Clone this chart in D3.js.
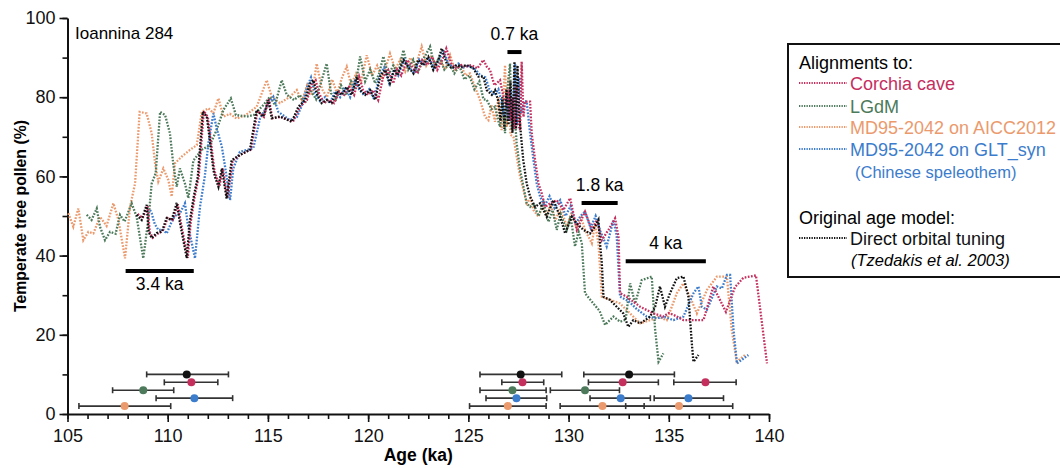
<!DOCTYPE html>
<html>
<head>
<meta charset="utf-8">
<script src="https://cdn.jsdelivr.net/npm/d3@7"></script>
<style>
body{margin:0;background:#fff;}
svg{font-family:"Liberation Sans",Arial,Helvetica,sans-serif;}
</style>
</head>
<body>
<svg></svg>
<script>
// pollen records, [age ka, temperate tree pollen %]
var orangeData = [[105.04,50.7],[105.29,47.3],[105.54,51.9],[105.79,43.9],[106.04,46],[106.29,45.6],[106.62,49.8],[106.95,47.5],[107.29,53.2],[107.54,49],[107.87,39.3],[108.12,52.3],[108.37,58.2],[108.6,76.3],[108.95,75.9],[109.2,70.9],[109.37,63.3],[109.53,58.7],[109.78,62],[110.03,59.1],[110.2,54.9],[110.36,63.3],[110.7,65],[111.11,66.7],[111.45,67.9],[111.7,76.3],[112.03,77.2],[112.28,76],[112.53,79.7],[112.78,75.1],[113.1,75.8],[113.44,74.6],[113.9,75.5],[114.44,77.6],[114.94,84.3],[115.19,80.1],[115.6,78.5],[116.1,80.1],[116.44,81.8],[116.7,79],[116.95,83],[117.2,80.5],[117.43,88.5],[117.7,82],[117.95,80],[118.2,84.5],[118.45,81],[118.7,85],[118.93,87.7],[119.15,83],[119.4,86],[119.65,84],[119.93,90.6],[120.2,85.5],[120.45,88],[120.7,84.5],[121.09,91],[121.35,87],[121.6,89.5],[121.85,86.5],[122.1,90],[122.35,87.5],[122.67,92.8],[122.9,88],[123.15,90.5],[123.4,87.5],[123.65,89],[123.85,87],[124.09,90.6],[124.35,86.5],[124.6,88.5],[124.85,85.5],[125.08,86],[125.33,82.6],[125.58,79.3],[125.83,75.1],[126.0,74.2],[126.15,78],[126.33,73.8],[126.5,80],[126.66,71.7],[126.83,88.1],[126.92,72.5],[127.0,85.2],[127.1,70.5],[127.25,70],[127.41,65],[127.58,59.9],[127.75,56.6],[127.91,53.2],[128.1,54.5],[128.25,51.5],[128.5,49.8],[128.7,52.5],[128.9,50],[129.1,53],[129.35,49],[129.6,52],[129.91,47.3],[130.15,51],[130.4,47],[130.6,50],[130.82,46.5],[131.16,43.1],[131.32,48.1],[131.49,43.1],[131.66,29.6],[132.1,28.8],[132.57,27.9],[133.07,25.4],[133.57,22.9],[134.07,23.7],[134.5,24.5],[134.9,23.7],[135.4,30.5],[135.73,33],[136.06,29.6],[136.4,25.4],[136.9,31.3],[137.4,34.7],[137.9,34.7],[138.14,21.2],[138.39,13.2],[138.81,14.9]]

var greenData = [[105.96,50.3],[106.2,49],[106.46,51.9],[106.62,47.3],[106.87,43.9],[107.12,46],[107.4,45.5],[107.62,50.3],[107.85,48.6],[108.2,53.2],[108.45,49.8],[108.78,39.3],[109.05,49.8],[109.2,58.2],[109.4,60.8],[109.62,76.3],[109.87,75.5],[110.11,70.9],[110.28,63],[110.45,57.4],[110.61,62],[110.86,58.2],[111.03,54.5],[111.28,64],[111.7,66.7],[112.1,67.9],[112.44,71.7],[112.78,76.8],[113.15,79.7],[113.4,75.5],[113.94,75.1],[114.3,75.5],[114.77,78],[115.1,80.1],[115.35,78],[115.69,84.3],[115.94,80.6],[116.3,79.3],[116.6,80.5],[116.85,78.5],[117.1,82],[117.4,79.5],[117.93,88.5],[118.15,81],[118.4,79.5],[118.65,83],[118.9,80.5],[119.15,84],[119.35,82],[119.6,90.3],[119.85,84],[120.1,87],[120.35,83.5],[120.55,86],[120.76,90.3],[121.0,85.5],[121.25,88],[121.5,86],[121.76,91.9],[122.0,87],[122.25,89.5],[122.5,86.5],[122.8,90],[123.09,92.8],[123.3,88],[123.55,90],[123.8,87],[124.05,88.5],[124.3,86],[124.55,88],[124.8,84.5],[125.05,85.5],[125.3,82],[125.55,84],[125.75,79.5],[125.92,79.3],[126.15,77],[126.33,77.6],[126.5,74],[126.58,72.5],[126.7,79],[126.83,70.9],[126.95,82],[127.08,88.5],[127.16,71.7],[127.25,80],[127.41,68.4],[127.58,61.6],[127.75,57.4],[127.91,53.2],[128.08,52.3],[128.25,53.2],[128.5,50],[128.75,53.5],[129.0,48.5],[129.2,51.5],[129.41,46.5],[129.6,50.5],[129.91,46.5],[130.1,50],[130.32,42.3],[130.5,46],[130.66,43.1],[130.82,30.5],[131.24,27.9],[131.55,26],[131.82,22.5],[132.24,24.6],[132.57,23.3],[132.85,23.8],[133.07,33],[133.32,27.9],[133.65,33.8],[134.15,34.7],[134.32,21.2],[134.49,13.2],[134.73,15.3]]

var blueData = [[109.12,51.5],[109.2,50.7],[109.35,48],[109.53,46.5],[109.78,46.5],[109.95,45.6],[110.15,48],[110.35,50],[110.61,50.7],[110.86,53.2],[111.0,48],[111.36,39.3],[111.61,52.3],[111.85,60],[112.03,68.4],[112.28,75.9],[112.45,72],[112.7,67.5],[112.86,62.5],[113.11,54],[113.27,62],[113.6,66.2],[114.27,67.1],[114.6,74.6],[114.94,77.6],[115.27,80.1],[115.52,76.3],[116.1,74.2],[116.45,75],[116.7,78],[116.95,82.5],[117.15,85],[117.35,81],[117.6,79],[117.85,80],[118.1,78.5],[118.35,81.5],[118.6,80],[118.85,82.5],[119.1,80],[119.35,84.5],[119.55,82],[119.8,80.5],[120.05,82],[120.3,79.5],[120.55,85],[120.8,87.5],[121.05,83.5],[121.3,87],[121.5,85.5],[121.8,89.5],[122.05,87.5],[122.3,86],[122.55,89.5],[122.8,88],[123.05,90],[123.3,87],[123.55,89.5],[123.75,92],[124.0,88.5],[124.25,87.5],[124.5,88.5],[124.75,87.5],[125.0,88],[125.35,87],[125.6,85.5],[125.85,85],[126.05,82],[126.3,80.5],[126.5,82],[126.65,79],[126.8,75],[126.9,81],[127.0,74],[127.1,82],[127.2,72],[127.33,88.5],[127.42,73],[127.55,85],[127.65,76],[127.8,79],[127.91,78.9],[128.08,70.9],[128.25,64.1],[128.41,58.2],[128.58,54.9],[128.8,52.5],[129.05,55],[129.3,52],[129.58,54],[129.85,50],[130.1,52.5],[130.35,48],[130.6,50],[130.82,51.1],[131.1,47],[131.35,50],[131.6,46],[131.9,42.3],[132.24,49],[132.4,45],[132.57,29.6],[133.0,28.5],[133.4,26.5],[133.9,24.6],[134.4,24.2],[134.8,24.5],[135.23,23.7],[135.73,24.6],[136.23,30.5],[136.48,32.2],[136.65,27.1],[136.9,26.3],[137.4,32.2],[137.65,31.7],[137.9,35.1],[138.06,35.1],[138.23,21.2],[138.4,12.8],[138.97,14.9]]

var crimsonData = [[108.5,50.5],[108.75,49.5],[109.0,52.5],[109.1,46],[109.25,44.5],[109.5,45.5],[109.75,46.2],[110.0,49.5],[110.25,49],[110.5,53],[110.65,48.5],[111.0,39.4],[111.15,48.5],[111.35,55],[111.55,60],[111.8,76.5],[112.0,75],[112.15,69],[112.33,61.5],[112.42,60],[112.58,57.5],[112.75,62],[112.98,54.5],[113.24,64],[113.65,65.5],[114.15,66.8],[114.48,76.5],[114.8,75],[115.05,79.5],[115.22,74.7],[115.65,75],[116.25,73.8],[116.6,77.6],[116.95,79.3],[117.2,83.5],[117.38,84.3],[117.55,81],[117.8,78.5],[118.05,79.3],[118.3,78.5],[118.55,81.4],[118.8,80.6],[119.05,82.6],[119.3,80.6],[119.55,85.2],[119.75,81.8],[120.0,80.6],[120.25,81.8],[120.5,79.3],[120.75,85.2],[121.0,86.9],[121.25,83.5],[121.45,87],[121.65,85.5],[121.95,89.4],[122.2,87.7],[122.45,86],[122.7,89.4],[122.95,88.1],[123.2,90.2],[123.45,86.9],[123.7,89.4],[123.9,92.3],[124.15,88.5],[124.4,87.3],[124.65,88.1],[124.9,87.7],[125.15,88.1],[125.45,87.3],[125.75,89.4],[125.92,87.7],[126.08,86.9],[126.3,83],[126.58,84.3],[126.75,80.1],[126.9,78],[127.0,82],[127.1,74],[127.2,80],[127.3,72],[127.4,83],[127.5,73],[127.58,71.7],[127.66,89],[127.75,75],[127.83,78.9],[128.08,78.9],[128.16,70.9],[128.33,64.1],[128.5,58.2],[128.66,55.7],[128.83,52.3],[129.08,53.2],[129.41,54],[129.74,51.5],[130.08,54.5],[130.41,46.5],[130.82,51.1],[131.16,46.5],[131.41,49],[131.66,43.9],[131.99,46.5],[132.32,49.4],[132.49,44.8],[132.57,30.5],[132.9,29.6],[133.57,27.1],[134.23,25.4],[134.73,24.6],[135.0,25.5],[135.25,25],[135.73,23.7],[136.73,23.7],[137.22,32.2],[137.85,25.8],[138.3,32],[138.72,34.4],[139.35,35],[139.9,12.8]]

var blackData = [[108.45,50.3],[108.7,49],[108.95,52.8],[109.05,46],[109.2,44.4],[109.45,45.7],[109.7,46],[109.95,49.5],[110.2,49],[110.45,53.3],[110.6,48.6],[110.95,39.4],[111.1,48.6],[111.3,54.9],[111.5,59.9],[111.75,76.3],[111.95,75.1],[112.1,69.2],[112.28,61.6],[112.36,59.9],[112.53,57.4],[112.7,62],[112.94,54.4],[113.19,64.1],[113.6,65.4],[114.1,66.7],[114.44,76.8],[114.77,75.1],[115.02,79.3],[115.19,74.7],[115.6,75.1],[116.19,73.8],[116.52,77.6],[116.85,79.3],[117.1,83.5],[117.27,84.3],[117.43,81],[117.68,78.5],[117.93,79.3],[118.18,78.5],[118.43,81.4],[118.68,80.6],[118.93,82.6],[119.18,80.6],[119.43,85.2],[119.6,81.8],[119.85,80.6],[120.1,81.8],[120.35,79.3],[120.6,85.2],[120.84,86.9],[121.09,83.5],[121.3,87],[121.45,85.5],[121.76,89.4],[122.0,87.7],[122.26,86],[122.5,89.4],[122.75,88.1],[123.0,90.2],[123.25,86.9],[123.5,89.4],[123.67,92.3],[123.92,88.5],[124.17,87.3],[124.42,88.1],[124.67,87.7],[124.92,88.1],[125.25,87.3],[125.5,85.2],[125.75,85.2],[125.92,81.8],[126.17,80.6],[126.33,81.8],[126.5,78.9],[126.6,74],[126.7,80],[126.8,72],[126.9,82],[127.0,73],[127.1,84],[127.2,71],[127.3,89],[127.38,72],[127.45,88],[127.55,75],[127.66,68.4],[127.74,64.1],[127.91,58.2],[128.08,54.9],[128.33,52.3],[128.58,53.2],[128.91,49.8],[129.24,54],[129.58,49.8],[129.83,45.6],[130.16,49.8],[130.41,48.1],[130.74,46.5],[131.07,45.6],[131.32,47.3],[131.49,49],[131.57,43.1],[131.66,38],[131.74,29.6],[132.07,28.8],[132.4,27.1],[132.73,25.4],[132.98,22],[133.23,23.7],[133.57,22.9],[133.82,23.7],[134.07,24.6],[134.32,27.1],[134.56,32.2],[134.81,27.1],[135.06,30.5],[135.4,34.3],[135.73,34.7],[135.98,29.6],[136.15,17.8],[136.23,13.2],[136.48,14.9]]

// legend / series
var seriesNames = ["Corchia cave","LGdM","MD95-2042 on AICC2012","MD95-2042 on GLT_syn","Direct orbital tuning"]
var seriesColors = ["#c52f5e","#4c7a5b","#eb9a6d","#3c7ccc","#111111"]
var seriesData = [crimsonData, greenData, orangeData, blueData, blackData]
var drawOrder = [2,1,3,0,4]

// transition ages with uncertainty, one row per series (same order as seriesNames)
var errRow = [8,6,2,4,10]
var errCenter = [[111.18,127.70,132.70,136.83],[108.78,127.20,130.82],[107.85,126.97,131.69,135.51],[111.33,127.40,132.60,135.98],[110.95,127.61,133.02]]
var errLow = [[109.83,126.67,130.99,135.25],[107.25,125.58,129.09],[105.57,125.06,129.58,132.85],[109.42,125.88,131.07,134.27],[108.95,125.58,130.76]]
var errHigh = [[112.50,128.76,134.48,138.36],[110.30,128.88,132.54],[110.15,128.88,133.77,138.19],[113.24,128.91,134.08,137.73],[113.03,129.66,135.28]]

// duration bars
var spanLabels = ["0.7 ka","1.8 ka","4 ka","3.4 ka"]
var spanStart = [126.95,130.65,132.85,107.9]
var spanEnd = [127.65,132.45,136.85,111.3]
var spanLevel = [91.4,53.3,38.6,36.1]
var spanBelow = [false,false,false,true]

var xTicks = [105,110,115,120,125,130,135,140]
var yTicks = [0,20,40,60,80,100]

var screen = {width:1060, height:468}
var margins = {top:18, bottom:54, left:67.5, right:291}

var width = screen.width - margins.left - margins.right
var height = screen.height - margins.top - margins.bottom

var svg = d3.select("svg")
    .attr("width",screen.width)
    .attr("height",screen.height)

var graph = svg.append("g")
    .attr("id","graph")
    .attr("transform","translate("+margins.left+","+margins.top+")")

var xScale = d3.scaleLinear()
    .domain([105,140])
    .range([0,width])
var yScale = d3.scaleLinear()
    .domain([0,100])
    .range([height,0])

// minor ticks first, then the labelled axes
graph.append("g")
    .attr("transform","translate(0,"+height+")")
    .call(d3.axisBottom(xScale).tickValues(d3.range(105,141,1)).tickSize(5).tickFormat(""))
    .call(function(g){ g.select(".domain").remove() })
graph.append("g")
    .call(d3.axisLeft(yScale).tickValues(d3.range(0,101,10)).tickSize(5).tickFormat(""))
    .call(function(g){ g.select(".domain").remove() })

var xAxis = graph.append("g")
    .attr("id","xAxis")
    .attr("transform","translate(0,"+height+")")
    .call(d3.axisBottom(xScale).tickValues(xTicks).tickSize(8).tickSizeOuter(0).tickPadding(7))
var yAxis = graph.append("g")
    .attr("id","yAxis")
    .call(d3.axisLeft(yScale).tickValues(yTicks).tickSize(8).tickSizeOuter(0).tickPadding(4))

svg.selectAll(".tick line").attr("stroke","#111").attr("stroke-width",1.6)
svg.selectAll(".domain").attr("stroke","#111").attr("stroke-width",2)
svg.selectAll(".tick text").attr("font-size",18).attr("fill","#111")
    .attr("font-family","'Liberation Sans',Arial,sans-serif")

svg.append("text")
    .attr("transform","translate(26,"+(margins.top+height/2)+") rotate(-90)")
    .attr("text-anchor","middle")
    .attr("font-size",15.8).attr("font-weight","bold")
    .text("Temperate tree pollen (%)")
svg.append("text")
    .attr("x",margins.left+xScale(122.5)).attr("y",461)
    .attr("text-anchor","middle")
    .attr("font-size",17.5).attr("font-weight","bold")
    .text("Age (ka)")

graph.append("text")
    .attr("x",7.5).attr("y",21)
    .attr("font-size",17)
    .text("Ioannina 284")

// curves
var line = d3.line()
    .x(function(d){ return xScale(d[0]) })
    .y(function(d){ return yScale(d[1]) })

graph.selectAll("path.curve")
    .data(drawOrder)
    .enter()
    .append("path")
    .attr("class","curve")
    .attr("d",function(i){ return line(seriesData[i]) })
    .attr("fill","none")
    .attr("stroke",function(i){ return seriesColors[i] })
    .attr("stroke-width",2.3)
    .attr("stroke-dasharray","1.7,1.5")

// duration bars
var spans = graph.selectAll("g.span")
    .data(spanLabels)
    .enter()
    .append("g")
    .attr("class","span")
spans.append("line")
    .attr("x1",function(d,i){ return xScale(spanStart[i]) })
    .attr("x2",function(d,i){ return xScale(spanEnd[i]) })
    .attr("y1",function(d,i){ return yScale(spanLevel[i]) })
    .attr("y2",function(d,i){ return yScale(spanLevel[i]) })
    .attr("stroke","#000").attr("stroke-width",4)
spans.append("text")
    .attr("x",function(d,i){ return xScale((spanStart[i]+spanEnd[i])/2) })
    .attr("y",function(d,i){ return yScale(spanLevel[i]) + (spanBelow[i] ? 19 : -12) })
    .attr("text-anchor","middle")
    .attr("font-size",17.5)
    .text(function(d){ return d })

// error bars
var errs = []
errCenter.forEach(function(row,i){
    row.forEach(function(c,j){
        errs.push({s:i, c:c, lo:errLow[i][j], hi:errHigh[i][j], y:errRow[i]})
    })
})
var eb = graph.selectAll("g.err")
    .data(errs)
    .enter()
    .append("g")
    .attr("class","err")
eb.append("line")
    .attr("x1",function(d){ return xScale(d.lo) })
    .attr("x2",function(d){ return xScale(d.hi) })
    .attr("y1",function(d){ return yScale(d.y) })
    .attr("y2",function(d){ return yScale(d.y) })
    .attr("stroke","#333").attr("stroke-width",1.6)
eb.selectAll("line.cap")
    .data(function(d){ return [d.lo,d.hi].map(function(v){ return {x:v, y:d.y} }) })
    .enter()
    .append("line")
    .attr("class","cap")
    .attr("x1",function(d){ return xScale(d.x) })
    .attr("x2",function(d){ return xScale(d.x) })
    .attr("y1",function(d){ return yScale(d.y)-3 })
    .attr("y2",function(d){ return yScale(d.y)+3 })
    .attr("stroke","#333").attr("stroke-width",1.6)
eb.append("circle")
    .attr("cx",function(d){ return xScale(d.c) })
    .attr("cy",function(d){ return yScale(d.y) })
    .attr("r",4)
    .attr("fill",function(d){ return seriesColors[d.s] })

// legend
var legend = svg.append("g").attr("id","legend")
legend.append("rect")
    .attr("x",788).attr("y",44)
    .attr("width",300).attr("height",233)
    .attr("fill","none").attr("stroke","#111").attr("stroke-width",2)
legend.append("text").attr("x",799).attr("y",68.5).attr("font-size",18).text("Alignments to:")
legend.append("text").attr("x",799).attr("y",223.5).attr("font-size",18).text("Original age model:")

var legendY = [83,106,127,149,238]
var items = legend.selectAll("g.item")
    .data(seriesNames)
    .enter()
    .append("g")
    .attr("class","item")
items.append("line")
    .attr("x1",799).attr("x2",847)
    .attr("y1",function(d,i){ return legendY[i] })
    .attr("y2",function(d,i){ return legendY[i] })
    .attr("stroke",function(d,i){ return seriesColors[i] })
    .attr("stroke-width",1.8)
    .attr("stroke-dasharray","1.3,1.2")
items.append("text")
    .attr("x",850)
    .attr("y",function(d,i){ return legendY[i]+6.5 })
    .attr("font-size",18)
    .attr("fill",function(d,i){ return i==4 ? "#111" : seriesColors[i] })
    .text(function(d){ return d })

legend.append("text").attr("x",855).attr("y",178).attr("font-size",16.5)
    .attr("fill",seriesColors[3]).text("(Chinese speleothem)")
legend.append("text").attr("x",851).attr("y",266).attr("font-size",16.5)
    .attr("font-style","italic").text("(Tzedakis et al. 2003)")
</script>
</body>
</html>
